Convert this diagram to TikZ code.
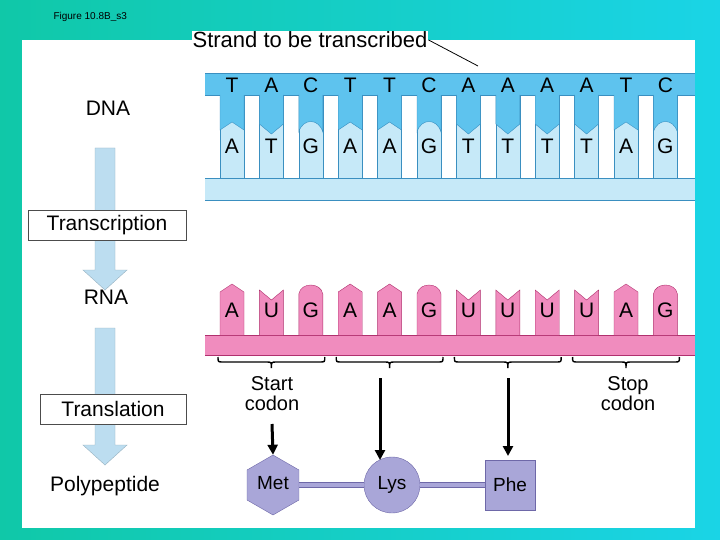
\documentclass[tikz,border=0pt]{standalone}
\usepackage{fontspec}
\setmainfont{Liberation Sans}
\usetikzlibrary{calc,arrows.meta,shapes.geometric}
\definecolor{bgA}{HTML}{10C8A8}
\definecolor{bgB}{HTML}{1AD4E6}
\definecolor{dnaD}{HTML}{5EC3EE}
\definecolor{dnaL}{HTML}{C6E9F8}
\definecolor{dnaE}{HTML}{3A8FC0}
\definecolor{rnaF}{HTML}{F08CBE}
\definecolor{rnaE}{HTML}{B0306E}
\definecolor{aaF}{HTML}{A9A6D8}
\definecolor{aaE}{HTML}{6E68A8}
\definecolor{flow}{HTML}{BCDDF0}
\begin{document}
\begin{tikzpicture}[x=1pt,y=-1pt,
  base/.style={font=\fontsize{21}{21}\selectfont},
  lbl/.style={font=\fontsize{21}{22}\selectfont},
  box/.style={draw=black!70,fill=white,font=\fontsize{21}{22}\selectfont,inner sep=3pt,minimum height=30pt},
  arr/.style={-{Triangle[length=10pt,width=10pt]},line width=3pt},
  brc/.style={line width=1.4pt},
  aa/.style={fill=aaF,draw=aaE,font=\fontsize{19}{19}\selectfont}]
\useasboundingbox (0,0) rectangle (720,540);
\shade[left color=bgA,right color=bgB] (0,0) rectangle (720,540);
\fill[white] (22,40) rectangle (695,528);
\node[font=\fontsize{10}{10}\selectfont,anchor=west] (fig) at (50,17) {Figure 10.8B\_s3};
\node[fill=white,inner sep=1pt,font=\fontsize{22}{22}\selectfont] (strand) at (310,40) {Strand to be transcribed};
% DNA
\fill[dnaL] (205,178) rectangle (695,200);
\draw[dnaE] (205,178) -- (695,178) (205,200) -- (695,200);
\fill[dnaD] (205,73) rectangle (695,95);
\draw[dnaE] (205,73) -- (695,73) (205,95) -- (695,95);
\def\topseq{T,A,C,T,T,C,A,A,A,A,T,C}
\def\botseq{A,T,G,A,A,G,T,T,T,T,A,G}
\foreach \t [count=\i from 0] in \topseq {
  \pgfmathsetmacro\xc{232+39.4*\i}
  \fill[dnaL,draw=dnaE] (\xc-12,95) rectangle (\xc+12,178);
  \if\t T
    \fill[dnaD,draw=dnaE] (\xc-12,95) -- (\xc-12,130) -- (\xc,122) -- (\xc+12,130) -- (\xc+12,95);
  \fi
  \if\t C
    \fill[dnaD,draw=dnaE] (\xc-12,95) -- (\xc-12,132) .. controls (\xc-8,118) and (\xc+8,118) .. (\xc+12,132) -- (\xc+12,95);
  \fi
  \if\t A
    \fill[dnaD,draw=dnaE] (\xc-12,95) -- (\xc-12,124) -- (\xc,134) -- (\xc+12,124) -- (\xc+12,95);
  \fi
  \if\t G
    \fill[dnaD,draw=dnaE] (\xc-12,95) -- (\xc-12,122) .. controls (\xc-8,136) and (\xc+8,136) .. (\xc+12,122) -- (\xc+12,95);
  \fi
  \node[base] (t\i) at (\xc,85) {\t};
}
\foreach \b [count=\i from 0] in \botseq {
  \pgfmathsetmacro\xc{232+39.4*\i}
  \node[base] (b\i) at (\xc,146) {\b};
}
\coordinate (sx) at (478,66);
\draw[thick] (strand.east) -- (sx);
% RNA
\fill[rnaF] (205,335) rectangle (695,355);
\draw[rnaE] (205,335) -- (695,335) (205,355) -- (695,355);
\def\rnaseq{A,U,G,A,A,G,U,U,U,U,A,G}
\foreach \r [count=\i from 0] in \rnaseq {
  \pgfmathsetmacro\xc{232+39.4*\i}
  \if\r A
    \fill[rnaF,draw=rnaE] (\xc-12,335) -- (\xc-12,292) -- (\xc,284) -- (\xc+12,292) -- (\xc+12,335);
  \fi
  \if\r U
    \fill[rnaF,draw=rnaE] (\xc-12,335) -- (\xc-12,290) -- (\xc,300) -- (\xc+12,290) -- (\xc+12,335);
  \fi
  \if\r G
    \fill[rnaF,draw=rnaE] (\xc-12,335) -- (\xc-12,294) .. controls (\xc-10,282) and (\xc+10,282) .. (\xc+12,294) -- (\xc+12,335);
  \fi
  \node[base] (r\i) at (\xc,310) {\r};
}
% codon braces
\foreach \k in {0,1,2,3} {
  \pgfmathsetmacro\xa{232+39.4*(3*\k)-14}
  \pgfmathsetmacro\xb{232+39.4*(3*\k+2)+14}
  \pgfmathsetmacro\xm{(\xa+\xb)/2}
  \draw[brc] (\xa,357) .. controls (\xa,362) .. (\xa+5,362) -- (\xm-5,362) .. controls (\xm,362) .. (\xm,368)
             .. controls (\xm,362) .. (\xm+5,362) -- (\xb-5,362) .. controls (\xb,362) .. (\xb,357);
}
\node[lbl,align=center,font=\fontsize{20}{20}\selectfont] (start) at (272,394) {Start\\codon};
\node[lbl,align=center,font=\fontsize{20}{20}\selectfont] (stop) at (628,394) {Stop\\codon};
% polypeptide
\node[aa,regular polygon,regular polygon sides=6,minimum size=60pt,inner sep=0pt,shape border rotate=90] (met) at (273,485) {};
\node[font=\fontsize{19}{19}\selectfont] (metl) at (273,483) {Met};
\node[aa,circle,minimum size=56pt,inner sep=0pt] (lys) at (392,485) {Lys};
\node[aa,rectangle,minimum size=50pt,inner sep=0pt] (phe) at (510,485) {Phe};
\draw[aaE,line width=6pt] (met) -- (lys) (lys) -- (phe);
\draw[aaF,line width=4pt] (met) -- (lys) (lys) -- (phe);
\coordinate (c0) at (272,424);
\coordinate (c1) at (380,378);
\coordinate (c2) at (508,378);
\draw[arr] (c0) -- (met.north);
\draw[arr] (c1) -- (380,460);
\draw[arr] (c2) -- (508,456);
% left column
\node[lbl] (dna) at (108,108) {DNA};
\node[lbl] (rna) at (106,297) {RNA};
\node[lbl] (poly) at (105,486) {Polypeptide};
\fill[flow,draw=flow!80!black] (95,148) -- (115,148) -- (115,270) -- (127,270) -- (105,290) -- (83,270) -- (95,270) -- cycle;
\fill[flow,draw=flow!80!black] (95,328) -- (115,328) -- (115,445) -- (127,445) -- (105,465) -- (83,445) -- (95,445) -- cycle;
\node[box,minimum width=158pt] (trc) at (107,225) {Transcription};
\node[box,minimum width=146pt] (trl) at (113,409) {Translation};
\end{tikzpicture}
\end{document}
